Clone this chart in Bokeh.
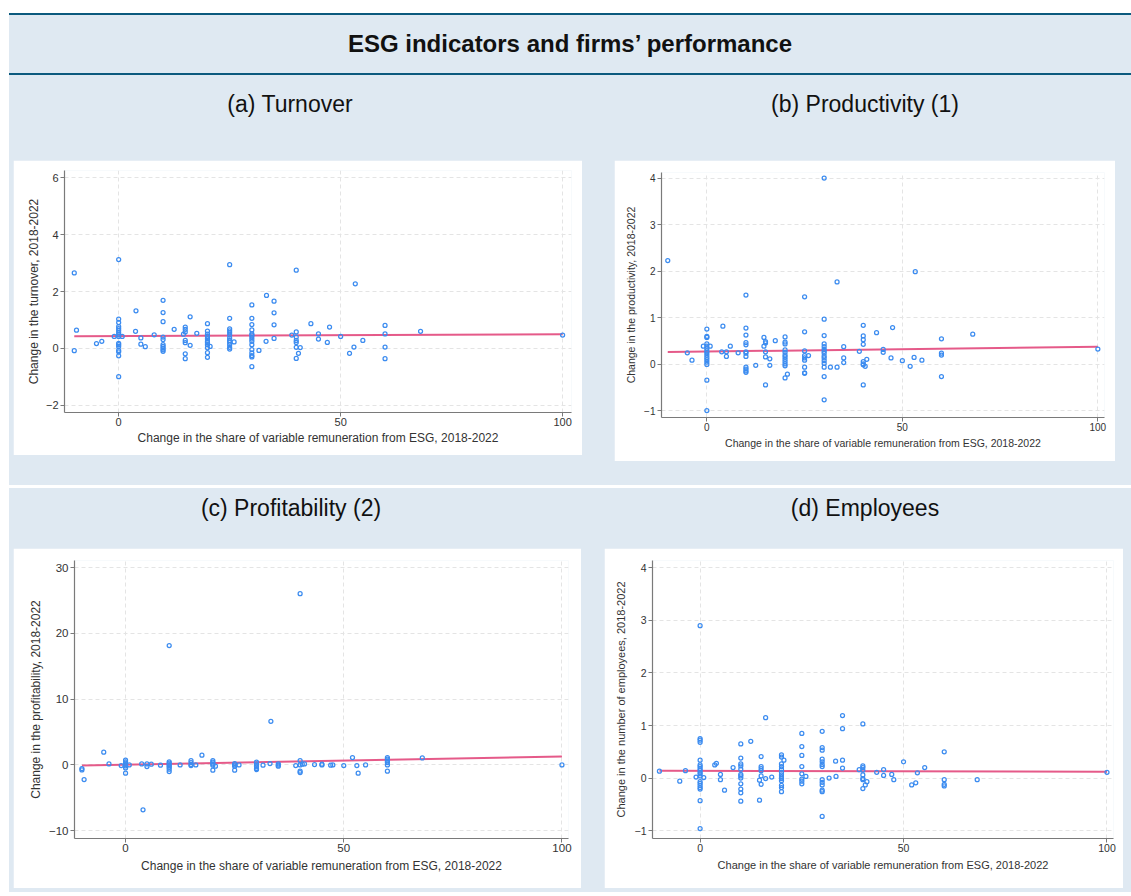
from bokeh.plotting import figure
from bokeh.models import Div, Range1d, FixedTicker
from bokeh.layouts import column, row
from bokeh.embed import file_html
from bokeh.resources import INLINE

FONT = "Liberation Sans"
BG = "#dfe9f2"
DARK = "#0b5a7e"
DOT = "#3c8cf0"
FIT = "#e2487c"

TITLE = "ESG indicators and firms\u2019 performance"
X_LABEL = "Change in the share of variable remuneration from ESG, 2018-2022"
x_ticks = [0, 50, 100]

# ---------------- (a) Turnover ----------------
turnover_title = "(a) Turnover"
turnover_ylabel = "Change in the turnover, 2018-2022"
turnover_yticks = [-2, 0, 2, 4, 6]
turnover_x = ([-10, -10, -9.5, -5, -3.8, -1]
              + [0] * 16
              + [0.8, 3.9, 3.8, 5, 5, 6, 8]
              + [10] * 10
              + [12.5] + [15] * 7 + [14.6, 16.1, 16.1, 17.6]
              + [20] * 11 + [20.6]
              + [25] * 12 + [26]
              + [30] * 15 + [31.6, 33.3, 33.2]
              + [35] * 4 + [39]
              + [40] * 7 + [40.5, 40.9, 43.3, 45, 45, 47, 47.5, 50, 52, 53, 53.3, 55]
              + [60] * 4 + [68, 100])
turnover_y = ([2.65, -0.08, 0.64, 0.17, 0.25, 0.42]
              + [3.12, 1.03, 0.91, 0.77, 0.70, 0.63, 0.55, 0.48, 0.42, 0.18, 0.13, 0.07, -0.07, -0.12, -0.26, -0.99]
              + [0.42, 1.32, 0.60, 0.37, 0.15, 0.06, 0.48]
              + [1.69, 1.26, 0.94, 0.40, 0.31, 0.13, 0.07, 0.01, -0.05, -0.10]
              + [0.67] + [0.75, 0.67, 0.58, 0.28, 0.20, -0.19, -0.36] + [0.50, 1.11, 0.11, 0.53]
              + [0.87, 0.61, 0.50, 0.42, 0.34, 0.25, 0.20, 0.13, 0.02, -0.15, -0.31] + [0.07]
              + [2.94, 1.06, 0.69, 0.62, 0.55, 0.47, 0.36, 0.28, 0.22, 0.13, 0.04, -0.02] + [0.23]
              + [1.53, 1.06, 0.84, 0.65, 0.51, 0.47, 0.41, 0.33, 0.25, 0.13, -0.04, -0.16, -0.25, -0.30, -0.64]
              + [-0.07, 1.86, 0.25]
              + [1.66, 1.25, 0.83, 0.35] + [0.47]
              + [2.75, 0.58, 0.40, 0.28, 0.21, 0.04, -0.35]
              + [-0.17, 0.03, 0.87, 0.51, 0.33, 0.21, 0.75, 0.42, -0.17, 0.05, 2.27, 0.28]
              + [0.81, 0.51, 0.05, -0.36] + [0.60, 0.47])
turnover_fit_x = [-10, 100]
turnover_fit_y = [0.43, 0.50]

# ---------------- (b) Productivity ----------------
prod_title = "(b) Productivity (1)"
prod_ylabel = "Change in the productivity, 2018-2022"
prod_yticks = [-1, 0, 1, 2, 3, 4]
prod_x = ([-10, -5, -3.8, -0.9]
          + [0] * 15
          + [0.85, 3.8, 4.1, 5, 5, 6, 8]
          + [10] * 12
          + [12.5, 14.6, 14.6] + [15] * 5 + [16.1, 16.1, 17.5]
          + [20] * 12 + [20.6]
          + [25] * 9 + [26]
          + [30] * 15 + [31.6, 33.3, 33.3]
          + [35] * 3 + [39]
          + [40] * 8 + [40.5, 40.9, 43.4, 45.1, 45.1, 47.1, 47.5, 50, 52, 53, 53.3, 55]
          + [60] * 4 + [68, 100])
prod_y = ([2.23, 0.25, 0.09, 0.39]
          + [0.76, 0.60, 0.58, 0.44, 0.39, 0.34, 0.29, 0.25, 0.20, 0.15, 0.10, 0.05, 0.0, -0.34, -0.99]
          + [0.39, 0.27, 0.82, 0.27, 0.17, 0.39, 0.25]
          + [1.49, 0.78, 0.63, 0.47, 0.42, 0.27, 0.24, 0.17, -0.06, -0.10, -0.14, -0.17]
          + [-0.02, 0.58, 0.39] + [0.49, 0.46, 0.27, 0.16, -0.44] + [0.12, -0.02, 0.51]
          + [0.59, 0.48, 0.44, 0.31, 0.26, 0.20, 0.16, 0.11, 0.06, 0.01, -0.03, -0.29] + [-0.21]
          + [1.45, 0.70, 0.29, 0.19, 0.14, 0.09, -0.06, -0.18, -0.19] + [0.19]
          + [4.0, 0.97, 0.62, 0.44, 0.38, 0.32, 0.28, 0.24, 0.18, 0.14, 0.08, 0.02, -0.06, -0.26, -0.76]
          + [-0.06, 1.77, -0.06]
          + [0.38, 0.14, 0.04] + [0.28]
          + [0.84, 0.61, 0.53, 0.43, 0.06, 0.01, -0.01, -0.44]
          + [-0.04, 0.11, 0.68, 0.32, 0.26, 0.14, 0.79, 0.08, -0.04, 0.15, 1.99, 0.09]
          + [0.55, 0.24, 0.20, -0.26] + [0.65, 0.33])
prod_fit_x = [-10, 100]
prod_fit_y = [0.265, 0.38]

# ---------------- (c) Profitability ----------------
profit_title = "(c) Profitability (2)"
profit_ylabel = "Change in the profitability, 2018-2022"
profit_yticks = [-10, 0, 10, 20, 30]
profit_x = ([-10, -10, -9.5, -5, -3.8, -1]
            + [0] * 7
            + [0.85, 3.7, 4, 4.9, 4.9, 5.9, 8]
            + [10] * 8
            + [12.5] + [15] * 4 + [16.1, 17.5]
            + [20] * 5 + [20.6]
            + [25] * 4 + [26]
            + [30] * 6 + [31.5, 33.3, 33.1]
            + [35] * 3 + [39]
            + [40] * 5 + [40.5, 41, 43.3, 45, 45, 47, 47.5, 50, 52, 53, 53.3, 55]
            + [60] * 6 + [68, 100])
profit_y = ([-0.56, -0.76, -2.23, 1.93, 0.15, -0.1]
            + [0.71, 0.46, 0.25, 0.05, -0.15, -0.46, -1.27]
            + [0.0, 0.15, -6.84, 0.15, -0.25, 0.1, -0.05]
            + [18.15, 0.46, 0.25, 0.05, -0.15, -0.35, -0.66, -1.01]
            + [0.0] + [0.66, 0.35, 0.05, -0.1] + [0.0, 1.47]
            + [0.66, 0.41, 0.15, -0.05, -0.81] + [-0.2]
            + [0.2, 0.0, -0.2, -0.81] + [0.0]
            + [0.41, 0.15, -0.1, -0.3, -0.56, -0.71] + [-0.05, 6.64, 0.2]
            + [0.15, -0.05, -0.2] + [-0.1]
            + [26.05, 0.66, 0.0, -0.96, -1.17]
            + [0.1, 0.15, 0.05, 0.0, 0.1, -0.05, 0.0, -0.1, 1.12, -0.1, -1.27, 0.0]
            + [1.12, 0.86, 0.61, 0.35, 0.0, -0.96] + [1.06, 0.0])
profit_fit_x = [-10, 100]
profit_fit_y = [-0.10, 1.27]

# ---------------- (d) Employees ----------------
empl_title = "(d) Employees"
empl_ylabel = "Change in the number of employees, 2018-2022"
empl_yticks = [-1, 0, 1, 2, 3, 4]
empl_x = ([-10, -5, -3.6, -1]
          + [0] * 19
          + [0.9, 3.6, 4, 5, 5, 6, 8.1]
          + [10] * 12
          + [12.45, 14.6, 14.6] + [15] * 6 + [16.1, 16.1, 17.6]
          + [20] * 13 + [20.6]
          + [25] * 8 + [26]
          + [30] * 13 + [31.7, 33.3, 33.4]
          + [35] * 4 + [39.1]
          + [40] * 8 + [40.6, 41, 43.4, 45.1, 45.1, 47.1, 47.6, 50, 52, 53, 53.4, 55.2]
          + [60] * 4 + [68.1, 100])
empl_y = ([0.13, -0.06, 0.14, 0.02]
          + [2.9, 0.75, 0.72, 0.68, 0.34, 0.25, 0.22, 0.18, 0.15, 0.11, 0.08, 0.04, -0.07, -0.10, -0.14, -0.18, -0.21, -0.43, -0.96]
          + [0.01, 0.25, 0.28, 0.07, -0.03, -0.23, 0.2]
          + [0.65, 0.38, 0.27, 0.23, 0.17, 0.07, 0.04, 0.0, -0.11, -0.21, -0.28, -0.44]
          + [0.7, -0.42, -0.04] + [0.41, 0.22, 0.18, 0.14, 0.04, -0.12] + [1.15, -0.01, 0.02]
          + [0.44, 0.40, 0.27, 0.22, 0.17, 0.11, 0.06, 0.02, -0.01, -0.05, -0.14, -0.18, -0.26] + [0.34]
          + [0.85, 0.60, 0.43, 0.22, 0.08, -0.02, -0.06, -0.11] + [0.03]
          + [0.89, 0.58, 0.53, 0.36, 0.31, 0.26, 0.22, -0.03, -0.08, -0.13, -0.23, -0.26, -0.73]
          + [0.0, 0.32, 0.03]
          + [1.19, 0.94, 0.34, 0.19] + [0.16]
          + [1.03, 0.23, 0.20, 0.15, 0.06, -0.01, -0.03, -0.20]
          + [-0.13, -0.07, 0.11, 0.16, 0.05, 0.07, -0.03, 0.31, -0.13, -0.09, 0.1, 0.2]
          + [0.5, -0.03, -0.12, -0.15] + [-0.03, 0.11])
empl_fit_x = [-10, 100]
empl_fit_y = [0.14, 0.12]


def panel(xs, ys, fx, fy, ylabel, yticks, xr, yr, w, h, mb, tick_fs, lab_fs, ylab_standoff, xlab_standoff):
    p = figure(width=w, height=h, x_range=Range1d(*xr), y_range=Range1d(*yr),
               output_backend="svg", toolbar_location=None,
               min_border_left=mb[0], min_border_right=mb[1],
               min_border_top=mb[2], min_border_bottom=mb[3],
               background_fill_color="white", border_fill_color="white")
    p.outline_line_color = None
    p.grid.grid_line_color = "#e4e4e4"
    p.grid.grid_line_dash = "4 3"
    p.grid.grid_line_width = 1
    p.xaxis.ticker = FixedTicker(ticks=x_ticks)
    p.yaxis.ticker = FixedTicker(ticks=yticks)
    p.xgrid.ticker = FixedTicker(ticks=x_ticks)
    p.ygrid.ticker = FixedTicker(ticks=yticks)
    for ax in p.axis:
        ax.axis_line_color = "#7a7a7a"
        ax.axis_line_width = 1.2
        ax.major_tick_line_color = "#7a7a7a"
        ax.major_tick_in = 0
        ax.major_tick_out = 4
        ax.minor_tick_line_color = None
        ax.major_label_text_font = FONT
        ax.major_label_text_font_size = f"{tick_fs}px"
        ax.major_label_text_color = "#333333"
        ax.axis_label_text_font = FONT
        ax.axis_label_text_font_style = "normal"
        ax.axis_label_text_font_size = f"{lab_fs}px"
        ax.axis_label_text_color = "#333333"
        ax.major_label_standoff = 2
    p.xaxis.axis_label = X_LABEL
    p.yaxis.axis_label = ylabel
    p.yaxis.axis_label_standoff = ylab_standoff
    p.xaxis.axis_label_standoff = xlab_standoff
    p.xaxis.major_label_standoff = 1
    p.line(fx, fy, line_color=FIT, line_width=2, line_alpha=0.9)
    p.scatter(xs, ys, marker="circle", size=4, fill_color=None,
              line_color=DOT, line_width=1.25)
    return p


def subtitle(text, width, height, pad_top, inner_w):
    html = (f'<div style="width:{inner_w}px;height:{height}px;box-sizing:border-box;'
            f'padding-top:{pad_top}px;text-align:center;font-family:\'{FONT}\';'
            f'font-size:23px;line-height:26px;color:#111;">{text}</div>')
    return Div(text=html, width=width, height=height, margin=(0, 0, 0, 0))


pa = panel(turnover_x, turnover_y, turnover_fit_x, turnover_fit_y, turnover_ylabel, turnover_yticks,
           (-12.2, 102), (-2.25, 6.25), 569, 295, (51, 11, 10, 43), 11, 12, 2, 2)
pb = panel(prod_x, prod_y, prod_fit_x, prod_fit_y, prod_ylabel, prod_yticks,
           (-11.6, 101.7), (-1.14, 4.12), 501, 301, (47, 11, 12, 44), 10, 10.5, 4, 3)
pc = panel(profit_x, profit_y, profit_fit_x, profit_fit_y, profit_ylabel, profit_yticks,
           (-11.7, 101.5), (-11.2, 31.1), 568, 340, (61, 13, 12, 50), 11.5, 12, 3, 4)
pd = panel(empl_x, empl_y, empl_fit_x, empl_fit_y, empl_ylabel, empl_yticks,
           (-11.7, 101.6), (-1.15, 4.14), 519, 340, (48, 10, 12, 50), 10.5, 11, 5, 4)

W = 1122
header_html = (f'<div style="width:{W}px;height:62px;box-sizing:border-box;'
               f'border-top:2px solid {DARK};border-bottom:2px solid {DARK};background:{BG};'
               f'display:flex;align-items:center;justify-content:center;'
               f'font-family:\'{FONT}\';font-weight:bold;font-size:24px;color:#111;">{TITLE}</div>')
header = Div(text=header_html, width=W, height=62, margin=(13, 0, 0, 0))

col_a = column(subtitle(turnover_title, 569, 85, 16, 554), pa, margin=(0, 0, 0, 4))
col_b = column(subtitle(prod_title, 501, 85, 16, 502), pb, margin=(0, 0, 0, 32))
row1 = row(col_a, col_b, width=W, height=410, styles={"background-color": BG})

sep = Div(text=f'<div style="width:{W}px;height:3px;background:{DARK};"></div>',
          width=W, height=3, margin=(0, 0, 0, 0))

col_c = column(subtitle(profit_title, 568, 60, 7, 556), pc, margin=(0, 0, 0, 4))
col_d = column(subtitle(empl_title, 519, 60, 7, 522), pd, margin=(0, 0, 0, 23))
row2 = row(col_c, col_d, width=W, height=404, styles={"background-color": BG})

root = column(header, row1, sep, row2, width=W, height=892, margin=(0, 0, 0, 9))

open("out.html", "w").write(file_html(root, INLINE))
